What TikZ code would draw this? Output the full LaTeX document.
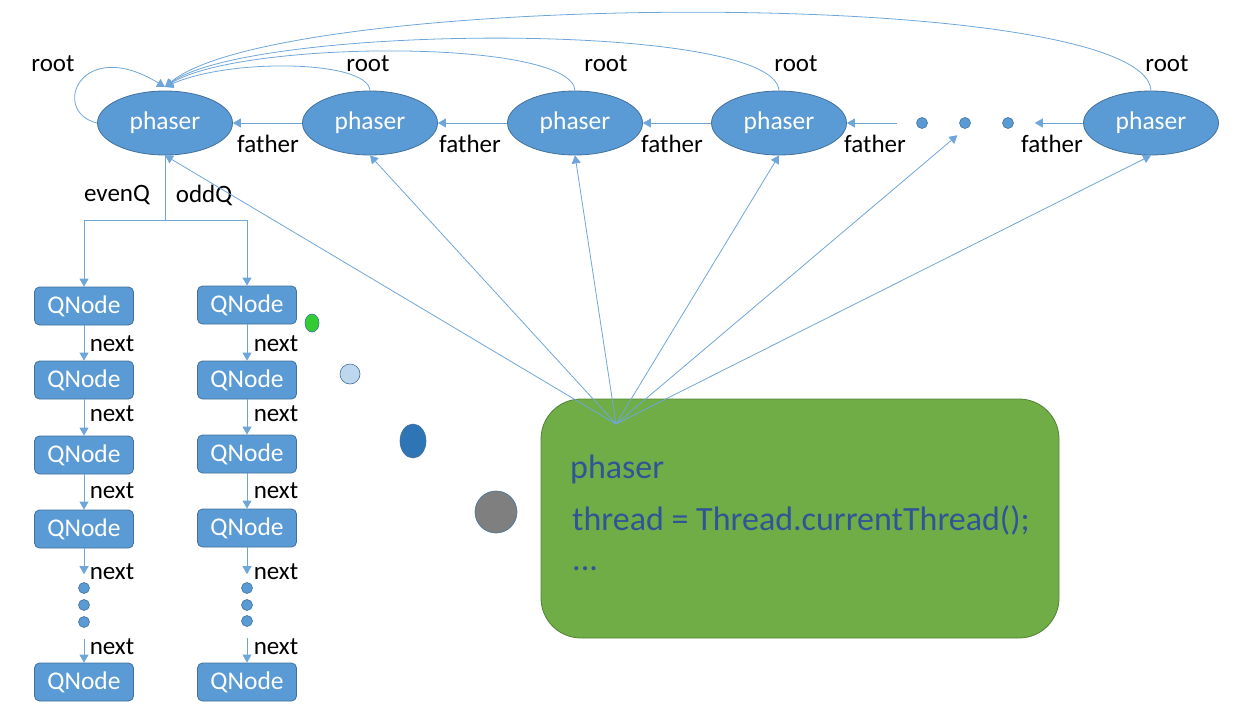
\documentclass[tikz,border=0pt]{standalone}
\usepackage{fontspec}
\setmainfont{Carlito}
\usetikzlibrary{arrows.meta,shapes.geometric}
\definecolor{phblue}{HTML}{5B9BD5}
\definecolor{phedge}{HTML}{41719C}
\definecolor{lnblue}{HTML}{6FA6DA}
\definecolor{thgreen}{HTML}{70AD47}
\definecolor{thedge}{HTML}{548235}
\definecolor{codeblue}{HTML}{2F5597}
\begin{document}
\begin{tikzpicture}[x=1pt,y=-1pt,
    phaser/.style={ellipse,draw=phedge,fill=phblue,line width=0.8pt,minimum width=135pt,
      minimum height=64pt,inner sep=0pt,text=white,font=\fontsize{25.5}{30}\selectfont},
    qnode/.style={rectangle,rounded corners=5pt,draw=phedge,fill=phblue,line width=0.8pt,
      minimum width=99pt,minimum height=38pt,inner sep=0pt,text=white,font=\fontsize{25.5}{30}\selectfont},
    dot/.style={circle,draw=phedge,fill=phblue,line width=0.6pt,minimum size=11pt,inner sep=0pt},
    lbl/.style={inner sep=0pt,font=\fontsize{25}{30}\selectfont},
    code/.style={inner sep=0pt,anchor=base west,text=codeblue,font=\fontsize{34}{40}\selectfont},
    link/.style={draw=lnblue,line width=0.8pt},
    arr/.style={link,-{Triangle[width=9pt,length=8pt]}}]
  \useasboundingbox (0,0) rectangle (1238,715);
  % phasers
  \node[phaser] (p1) at (165,123) {phaser};
  \node[phaser] (p2) at (370,123) {phaser};
  \node[phaser] (p3) at (575,123) {phaser};
  \node[phaser] (p4) at (779,123) {phaser};
  \node[phaser] (p5) at (1151,123) {phaser};
  \node[dot] (d1) at (922,123) {};
  \node[dot] (d2) at (965,123) {};
  \node[dot] (d3) at (1008,123) {};
  % father links
  \draw[arr] (p2.west) -- (p1.east);
  \draw[arr] (p3.west) -- (p2.east);
  \draw[arr] (p4.west) -- (p3.east);
  \draw[arr,shorten <=19pt] (d1.west) -- (p4.east);
  \draw[arr,shorten >=21pt] (p5.west) -- (d3.east);
  \node[lbl] at (268,144) {father};
  \node[lbl] at (470,144) {father};
  \node[lbl] at (672,144) {father};
  \node[lbl] at (875,144) {father};
  \node[lbl] at (1052,144) {father};
  % root links
  \coordinate (r1) at (165,87);
  \draw[arr] (p1.west) .. controls (50,112) and (80,35) .. (r1);
  \draw[arr] (p2.north) .. controls (368,60) and (230,58) .. (r1);
  \draw[arr] (p3.north) .. controls (572,38) and (240,40) .. (r1);
  \draw[arr] (p4.north) .. controls (775,20) and (250,24) .. (r1);
  \draw[arr] (p5.north) .. controls (1145,-15) and (280,-10) .. (r1);
  \node[lbl] at (53,64) {root};
  \node[lbl] at (368,64) {root};
  \node[lbl] at (606,64) {root};
  \node[lbl] at (796,64) {root};
  \node[lbl] at (1167,64) {root};
  % queues
  \node[qnode] (e1) at (84,306) {QNode};
  \node[qnode] (e2) at (84,380) {QNode};
  \node[qnode] (e3) at (84,455) {QNode};
  \node[qnode] (e4) at (84,529) {QNode};
  \node[dot] (ed1) at (84,588) {};
  \node[dot] (ed2) at (84,605) {};
  \node[dot] (ed3) at (84,622) {};
  \node[qnode] (e5) at (84,682) {QNode};
  \node[qnode] (o1) at (247,305) {QNode};
  \node[qnode] (o2) at (247,380) {QNode};
  \node[qnode] (o3) at (247,454) {QNode};
  \node[qnode] (o4) at (247,528) {QNode};
  \node[dot] (od1) at (247,588) {};
  \node[dot] (od2) at (247,605) {};
  \node[dot] (od3) at (247,621) {};
  \node[qnode] (o5) at (247,682) {QNode};
  \coordinate (qsplit) at (165,220);
  \draw[link] (p1.south) -- (qsplit);
  \draw[arr] (qsplit) -| (e1.north);
  \draw[arr] (qsplit) -| (o1.north);
  \node[lbl] at (117,195) {evenQ};
  \node[lbl] at (204,195) {oddQ};
  \draw[arr] (e1) -- (e2);
  \draw[arr] (e2) -- (e3);
  \draw[arr] (e3) -- (e4);
  \draw[arr,shorten >=8pt] (e4) -- (ed1);
  \draw[arr,shorten <=11pt] (ed3) -- (e5);
  \draw[arr] (o1) -- (o2);
  \draw[arr] (o2) -- (o3);
  \draw[arr] (o3) -- (o4);
  \draw[arr,shorten >=8pt] (o4) -- (od1);
  \draw[arr,shorten <=11pt] (od3) -- (o5);
  \foreach \y in {344,414,491,572,647} {
    \node[lbl] at (112,\y) {next};
    \node[lbl] at (276,\y) {next};
  }
  % loose circles
  \draw[phedge,fill={rgb,255:red,51;green,204;blue,51},line width=0.6pt] (312,323) ellipse (7pt and 9pt);
  \draw[phedge,fill={rgb,255:red,189;green,215;blue,238},line width=0.6pt] (350,374) circle (10pt);
  \draw[phedge,fill={rgb,255:red,46;green,117;blue,182},line width=0.6pt] (413,441) ellipse (13pt and 17pt);
  \draw[phedge,fill={rgb,255:red,127;green,127;blue,127},line width=0.6pt] (496,512) circle (21pt);
  % thread
  \node[rectangle,rounded corners=40pt,draw=thedge,fill=thgreen,line width=0.8pt,
    minimum width=518pt,minimum height=239pt] (thr) at (800,518.5) {};
  \node[code] (c1) at (570,478) {phaser};
  \node[code] (c2) at (572,530) {thread = Thread.currentThread();};
  \node[code] (c3) at (572,570) {...};
  \coordinate (tp) at (616,424);
  \draw[arr] (tp) -- (p1.south);
  \draw[arr] (tp) -- (p2.south);
  \draw[arr] (tp) -- (p3.south);
  \draw[arr] (tp) -- (p4.south);
  \draw[arr,shorten >=10pt] (tp) -- (d2.south);
  \draw[arr] (tp) -- (p5.south);
\end{tikzpicture}
\end{document}
